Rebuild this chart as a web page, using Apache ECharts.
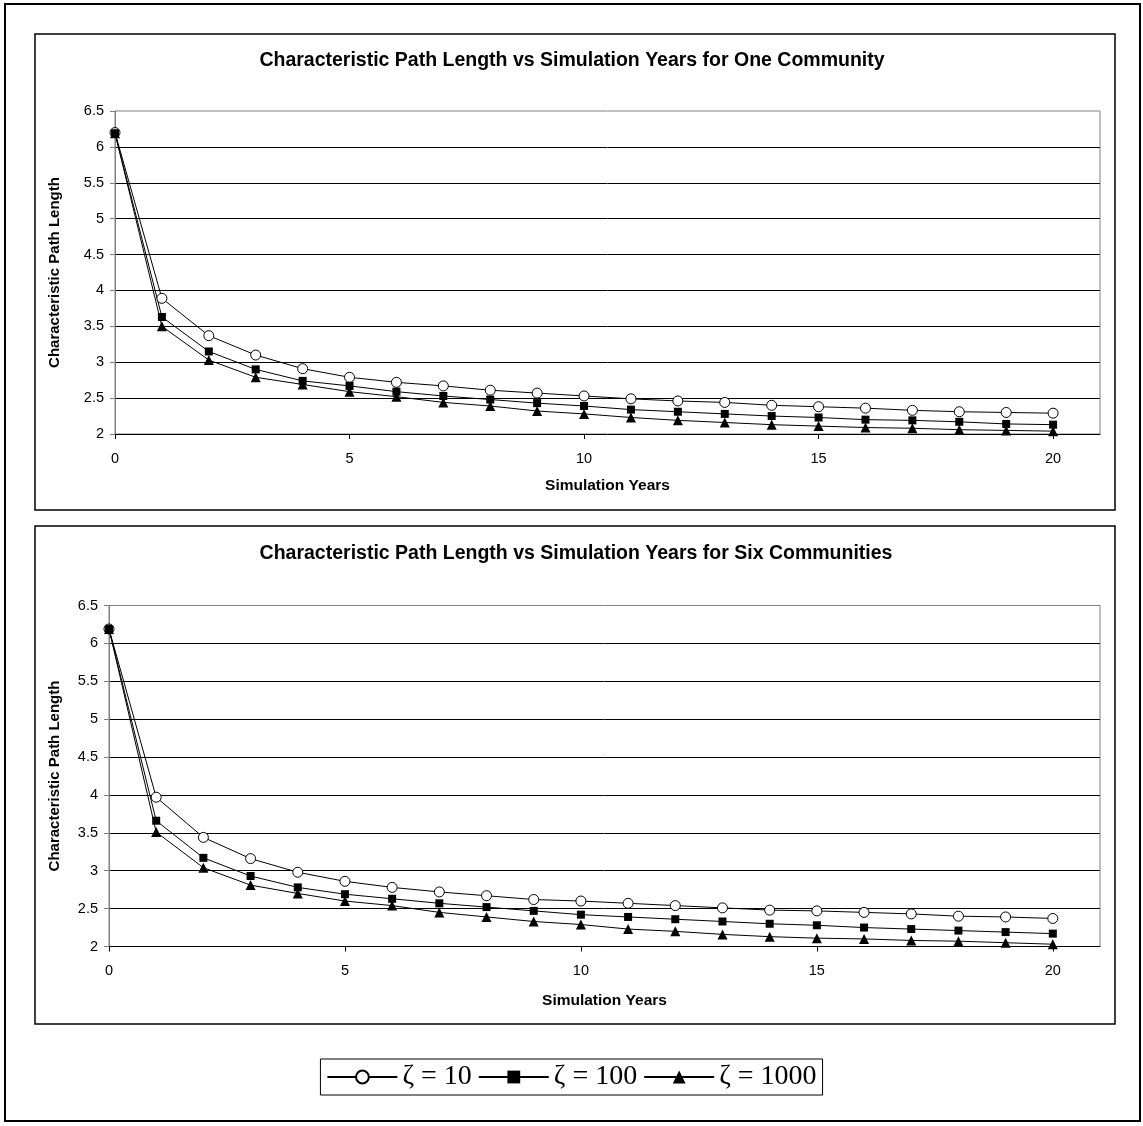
<!DOCTYPE html>
<html>
<head>
<meta charset="utf-8">
<script src="https://cdn.jsdelivr.net/npm/echarts@6/dist/echarts.min.js"></script>
<style>
html,body{margin:0;padding:0;background:#fff;}
#main{width:1143px;height:1126px;}
</style>
</head>
<body>
<div id="main"></div>
<script>
// ---- data ----
var years = [0,1,2,3,4,5,6,7,8,9,10,11,12,13,14,15,16,17,18,19,20];
var seriesNames = ['ζ = 10', 'ζ = 100', 'ζ = 1000'];
var oneZeta10   = [6.20,3.89,3.37,3.10,2.91,2.79,2.72,2.67,2.61,2.57,2.53,2.49,2.46,2.44,2.40,2.38,2.36,2.33,2.31,2.30,2.29];
var oneZeta100  = [6.19,3.63,3.15,2.90,2.74,2.67,2.59,2.53,2.48,2.43,2.39,2.34,2.31,2.28,2.25,2.23,2.20,2.19,2.17,2.14,2.13];
var oneZeta1000 = [6.19,3.50,3.03,2.79,2.69,2.59,2.52,2.44,2.39,2.32,2.28,2.23,2.19,2.16,2.13,2.11,2.09,2.08,2.06,2.05,2.04];
var sixZeta10   = [6.19,3.97,3.44,3.16,2.98,2.86,2.78,2.72,2.67,2.62,2.60,2.57,2.54,2.51,2.48,2.47,2.45,2.43,2.40,2.39,2.37];
var sixZeta100  = [6.19,3.66,3.17,2.93,2.78,2.69,2.63,2.57,2.52,2.47,2.42,2.39,2.36,2.33,2.30,2.28,2.25,2.23,2.21,2.19,2.17];
var sixZeta1000 = [6.19,3.51,3.04,2.81,2.70,2.60,2.54,2.45,2.39,2.33,2.29,2.23,2.20,2.16,2.13,2.11,2.10,2.08,2.07,2.05,2.03];
var xTickLabels = [0,5,10,15,20];
var titleOne = 'Characteristic Path Length vs Simulation Years for One Community';
var titleSix = 'Characteristic Path Length vs Simulation Years for Six Communities';
var xName = 'Simulation Years';
var yName = 'Characteristic Path Length';

// ---- chart ----
var chart = echarts.init(document.getElementById('main'), null, {renderer:'canvas'});
var SANS = 'Liberation Sans, Arial, sans-serif';

function pairs(vals){ return years.map(function(y,i){ return [y, vals[i]]; }); }

function xAxis(gi, nameGap){
  return {
    type:'value', gridIndex:gi, min:0, max:21, interval:5,
    name:xName, nameLocation:'middle', nameGap:nameGap,
    nameTextStyle:{fontFamily:SANS, fontWeight:'bold', fontSize:15.5, color:'#000'},
    axisLine:{show:true, onZero:false, lineStyle:{color:'#000', width:1}},
    axisTick:{show:true, length:5, customValues:xTickLabels, lineStyle:{color:'#000'}},
    axisLabel:{show:true, customValues:xTickLabels, margin:17, fontFamily:SANS, fontSize:14.5, color:'#000'},
    splitLine:{show:false}
  };
}
function yAxis(gi, nameGap){
  return {
    type:'value', gridIndex:gi, min:2, max:6.5, interval:0.5,
    name:yName, nameLocation:'middle', nameGap:nameGap, nameRotate:90,
    nameTextStyle:{fontFamily:SANS, fontWeight:'bold', fontSize:15, color:'#000'},
    axisLine:{show:true, lineStyle:{color:'#808080', width:1}},
    axisTick:{show:true, length:5, lineStyle:{color:'#808080'}},
    axisLabel:{margin:11, fontFamily:SANS, fontSize:14.5, color:'#000'},
    splitLine:{show:true, showMinLine:false, showMaxLine:false, lineStyle:{color:'#000', width:1}}
  };
}
function mkSeries(name, vals, gi, kind){
  var s = {
    name:name, type:'line', xAxisIndex:gi, yAxisIndex:gi, data:pairs(vals),
    lineStyle:{color:'#000', width:1}, emphasis:{disabled:true}, animation:false
  };
  if(kind===0){ s.symbol='circle'; s.symbolSize=10; s.itemStyle={color:'#fff', borderColor:'#000', borderWidth:1}; }
  if(kind===1){ s.symbol='rect'; s.symbolSize=8; s.itemStyle={color:'#000', borderColor:'#000', borderWidth:0}; }
  if(kind===2){ s.symbol='triangle'; s.symbolSize=10; s.itemStyle={color:'#000', borderColor:'#000', borderWidth:0}; }
  return s;
}

var option = {
  backgroundColor:'#fff',
  animation:false,
  grid:[
    {left:115, top:111, width:985, height:323, show:true, borderColor:'#808080', borderWidth:1, backgroundColor:'transparent'},
    {left:109, top:605.5, width:991, height:341, show:true, borderColor:'#808080', borderWidth:1, backgroundColor:'transparent'}
  ],
  xAxis:[ xAxis(0, 44), xAxis(1, 46) ],
  yAxis:[ yAxis(0, 53), yAxis(1, 47) ],
  legend:{
    data:seriesNames, left:'center', top:1059,
    itemWidth:70, itemHeight:16, itemGap:6,
    borderColor:'#000', borderWidth:1, padding:[4,6,4,6],
    textStyle:{fontFamily:'Liberation Serif, Times New Roman, serif', fontSize:28, color:'#000'},
    selectedMode:false
  },
  graphic:[
    {type:'rect', shape:{x:5, y:4, width:1135, height:1117}, style:{fill:null, stroke:'#000', lineWidth:2}, silent:true, z:-1},
    {type:'rect', shape:{x:35, y:34, width:1080, height:476}, style:{fill:null, stroke:'#000', lineWidth:1.5}, silent:true, z:-1},
    {type:'rect', shape:{x:35, y:526, width:1080, height:498}, style:{fill:null, stroke:'#000', lineWidth:1.5}, silent:true, z:-1},
    {type:'text', x:572, y:61, style:{text:titleOne, fontFamily:SANS, fontWeight:'bold', fontSize:19.5, fill:'#000', align:'center', verticalAlign:'middle'}, silent:true},
    {type:'text', x:576, y:554, style:{text:titleSix, fontFamily:SANS, fontWeight:'bold', fontSize:19.5, fill:'#000', align:'center', verticalAlign:'middle'}, silent:true}
  ],
  series:[
    mkSeries(seriesNames[0], oneZeta10, 0, 0),
    mkSeries(seriesNames[1], oneZeta100, 0, 1),
    mkSeries(seriesNames[2], oneZeta1000, 0, 2),
    mkSeries(seriesNames[0], sixZeta10, 1, 0),
    mkSeries(seriesNames[1], sixZeta100, 1, 1),
    mkSeries(seriesNames[2], sixZeta1000, 1, 2)
  ]
};
chart.setOption(option);
</script>
</body>
</html>
